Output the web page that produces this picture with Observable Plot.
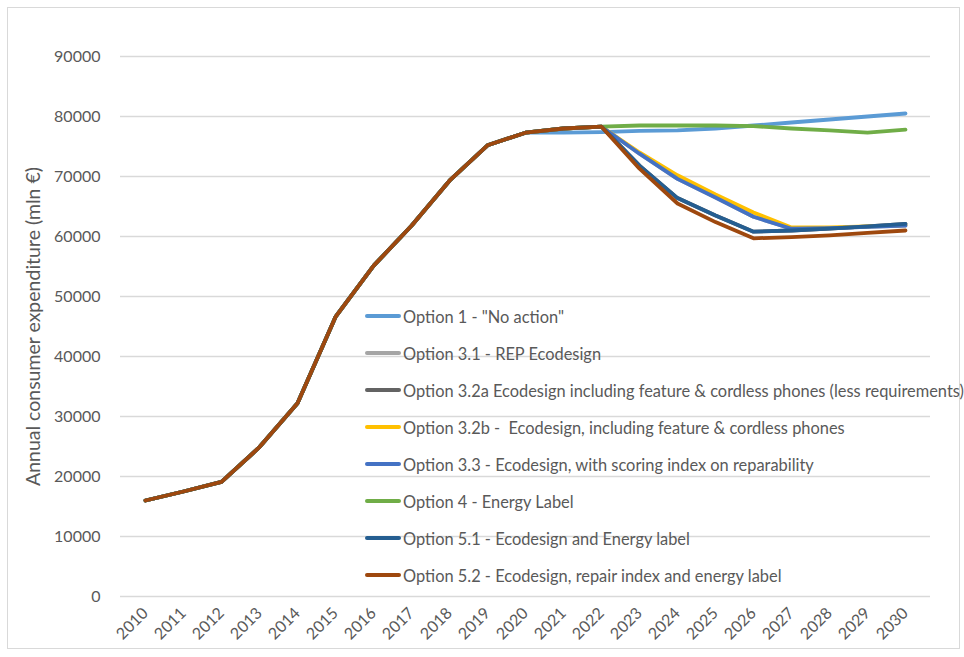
<!DOCTYPE html>
<html>
<head>
<meta charset="utf-8">
<script src="https://cdn.jsdelivr.net/npm/d3@7"></script>
<script src="https://cdn.jsdelivr.net/npm/@observablehq/plot@0.6"></script>
<style>
  html, body { margin: 0; padding: 0; background: #fff; }
  #wrap { position: relative; width: 964px; height: 657px; overflow: hidden; font-family: Lato, "Open Sans", sans-serif; }
  #frame { position: absolute; left: 7px; top: 7px; width: 953px; height: 642px; border: 1px solid #d9d9d9; box-sizing: border-box; pointer-events: none; }
  #legend { position: absolute; left: 365px; top: 0; }
  .item { position: absolute; left: 0; white-space: nowrap; display: flex; align-items: center; font-size: 16.4px; color: #595959; }
  .sw { width: 36px; height: 4px; border-radius: 2px; margin-right: 2px; }
</style>
</head>
<body>
<div id="wrap"><div id="frame"></div></div>
<script>
const years = d3.range(2010, 2031).map(String);
// shared history 2010-2020
const history = [16000, 17500, 19100, 24900, 32200, 46600, 55100, 61800, 69300, 75200, 77300];
const seriesNames = [
  'Option 1 - "No action"',
  'Option 3.1 - REP Ecodesign',
  'Option 3.2a Ecodesign including feature & cordless phones (less requirements)',
  'Option 3.2b -  Ecodesign, including feature & cordless phones',
  'Option 3.3 - Ecodesign, with scoring index on reparability',
  'Option 4 - Energy Label',
  'Option 5.1 - Ecodesign and Energy label',
  'Option 5.2 - Ecodesign, repair index and energy label'
];
const colors = ["#5B9BD5", "#A5A5A5", "#636363", "#FFC000", "#4472C4", "#70AD47", "#255E91", "#9E480E"];
// 2021-2030 values per series
const opt1  = [77300, 77400, 77600, 77700, 78000, 78500, 79000, 79500, 80000, 80500];
const opt31 = [78000, 78300, 73800, 69600, 66500, 63300, 61300, 61400, 61600, 61800];
const opt32a= [78000, 78300, 71800, 66400, 63500, 60800, 61000, 61300, 61700, 62100];
const opt32b= [78000, 78300, 74000, 70200, 67000, 64000, 61500, 61500, 61700, 61900];
const opt33 = [78000, 78300, 73800, 69600, 66500, 63300, 61300, 61400, 61600, 61800];
const opt4  = [78000, 78300, 78500, 78500, 78500, 78400, 78000, 77700, 77300, 77800];
const opt51 = [78000, 78300, 71800, 66400, 63500, 60800, 61000, 61300, 61700, 62100];
const opt52 = [78000, 78300, 71300, 65500, 62400, 59700, 59900, 60200, 60600, 61000];
const futures = [opt1, opt31, opt32a, opt32b, opt33, opt4, opt51, opt52];
const yTicks = d3.range(0, 90001, 10000);
const yTitle = "Annual consumer expenditure (mln €)";

const rows = [];
seriesNames.forEach((name, i) => {
  const vals = history.concat(futures[i]);
  vals.forEach((v, j) => rows.push({series: name, year: years[j], value: v}));
});

const chart = Plot.plot({
  width: 964,
  height: 657,
  marginLeft: 120,
  marginRight: 34,
  marginTop: 56,
  marginBottom: 61,
  style: {fontFamily: "Lato, 'Open Sans', sans-serif", color: "#595959", background: "transparent"},
  x: {type: "point", domain: years, padding: 0.5},
  y: {domain: [0, 90000]},
  color: {domain: seriesNames, range: colors},
  marks: [
    Plot.ruleY(yTicks, {stroke: "#d9d9d9", strokeWidth: 1.3}),
    Plot.axisY({ticks: yTicks, tickSize: 0, tickPadding: 20, tickFormat: d3.format("d"), fontSize: 16, label: null, fill: "#595959"}),
    Plot.axisX({tickSize: 0, tickRotate: -45, tickPadding: 14, fontSize: 16, label: null, fill: "#595959"}),
    Plot.text([yTitle], {frameAnchor: "left", dx: -87, dy: 0, rotate: -90, textAnchor: "middle", fontSize: 19.5, fill: "#595959", text: d => d}),
    Plot.line(rows, {x: "year", y: "value", z: "series", stroke: "series", strokeWidth: 3.8, strokeLinejoin: "round", strokeLinecap: "round"})
  ]
});
const wrap = document.getElementById("wrap");
chart.style.position = "absolute";
chart.style.left = "0px";
chart.style.top = "0px";
wrap.appendChild(chart);

const legend = document.createElement("div");
legend.id = "legend";
seriesNames.forEach((name, i) => {
  const item = document.createElement("div");
  item.className = "item";
  item.style.top = (316 + 37 * i - 10) + "px";
  item.style.height = "20px";
  const sw = document.createElement("div");
  sw.className = "sw";
  sw.style.background = colors[i];
  const t = document.createElement("span");
  t.textContent = name;
  t.style.whiteSpace = "pre";
  item.appendChild(sw);
  item.appendChild(t);
  legend.appendChild(item);
});
wrap.appendChild(legend);
</script>
</body>
</html>
